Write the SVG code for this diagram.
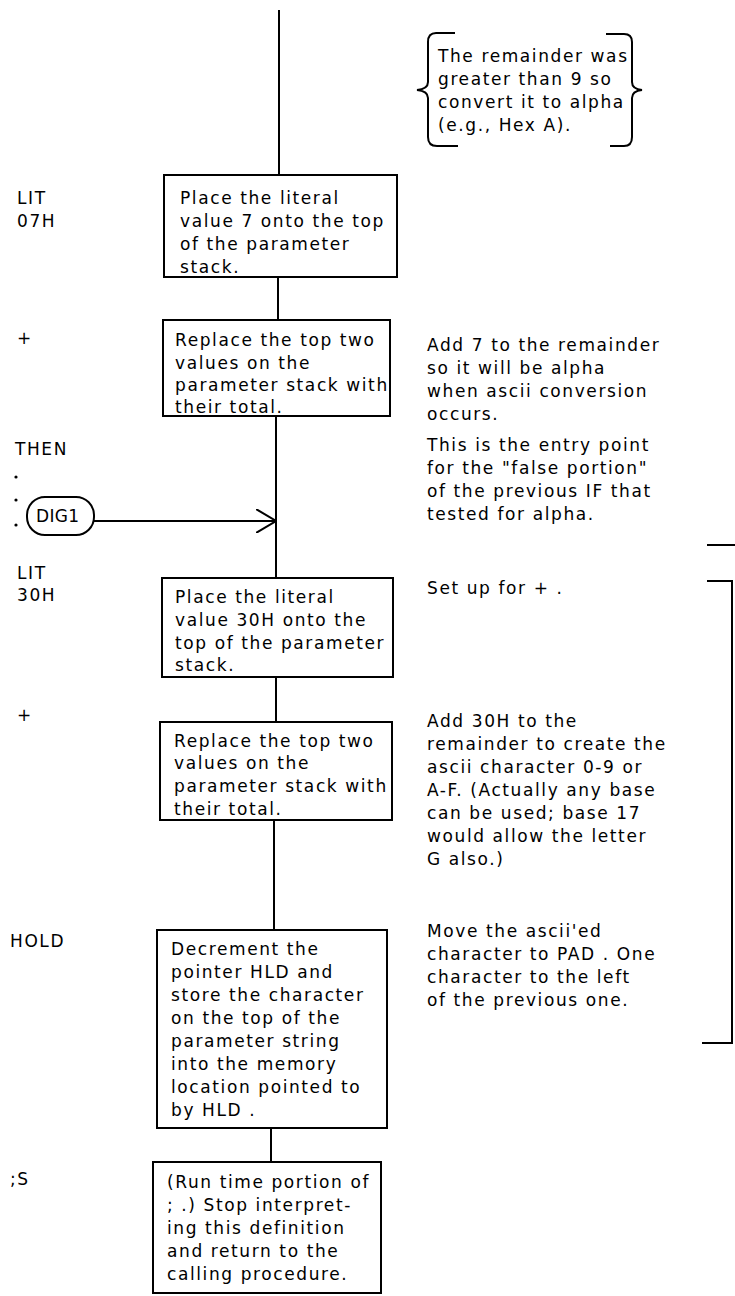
<svg xmlns="http://www.w3.org/2000/svg" width="735" height="1296" viewBox="0 0 735 1296">
<style>
  text { font-family: "DejaVu Sans", "Liberation Sans", sans-serif; font-size: 17px; fill: #000; letter-spacing: 1.6px; }
  .box { fill: #fff; stroke: #000; stroke-width: 2; }
  .ln { fill: none; stroke: #000; stroke-width: 2; }
</style>
<defs>
  <marker id="vee" viewBox="0 0 20 24" refX="20" refY="12" markerWidth="20" markerHeight="24" markerUnits="userSpaceOnUse" orient="auto">
    <path d="M0,0 L20,12 L0,24" fill="none" stroke="#000" stroke-width="2"/>
  </marker>
</defs>
<rect width="735" height="1296" fill="#fff"/>

<g id="connectors">
  <line class="ln" x1="279" y1="10" x2="279" y2="175"/>
  <line class="ln" x1="278" y1="277" x2="278" y2="320"/>
  <line class="ln" x1="276" y1="416" x2="276" y2="578"/>
  <line class="ln" x1="276" y1="677" x2="276" y2="722"/>
  <line class="ln" x1="274" y1="820" x2="274" y2="930"/>
  <line class="ln" x1="271" y1="1128" x2="271" y2="1162"/>
  <line class="ln" x1="94" y1="521" x2="276" y2="521" marker-end="url(#vee)"/>
</g>

<g id="brace-note">
  <path class="ln" d="M455,33 L436,33 Q428,33 428,42 L428,82 Q428,89 417,90 Q428,91 428,98 L428,137 Q428,146 437,146 L458,146"/>
  <path class="ln" d="M606,34 L624,34 Q632,34 632,42 L632,82 Q632,89 642,90 Q632,91 632,98 L632,137 Q632,146 624,146 L610,146"/>
  <text x="438" y="62">The remainder was</text>
  <text x="438" y="85">greater than 9 so</text>
  <text x="438" y="108">convert it to alpha</text>
  <text x="438" y="131">(e.g., Hex A).</text>
</g>

<g id="labels">
  <text x="17" y="204">LIT</text>
  <text x="17" y="227">07H</text>
  <text x="17" y="344">+</text>
  <text x="15" y="455">THEN</text>
  <circle cx="16" cy="477" r="1.6"/>
  <circle cx="16" cy="500" r="1.6"/>
  <circle cx="16" cy="525" r="1.6"/>
  <text x="17" y="579">LIT</text>
  <text x="17" y="601">30H</text>
  <text x="17" y="721">+</text>
  <text x="10" y="947">HOLD</text>
  <text x="10" y="1185">;S</text>
</g>

<g id="dig1">
  <rect class="box" x="27" y="497" width="67" height="38" rx="18" ry="18"/>
  <text x="36" y="522" style="letter-spacing:0.3px">DIG1</text>
</g>

<g id="node1">
  <rect class="box" x="164" y="175" width="233" height="102"/>
  <text x="180" y="204">Place the literal</text>
  <text x="180" y="227">value 7 onto the top</text>
  <text x="180" y="250">of the parameter</text>
  <text x="180" y="273">stack.</text>
</g>

<g id="node2">
  <rect class="box" x="163" y="320" width="227" height="96"/>
  <text x="175" y="346">Replace the top two</text>
  <text x="175" y="369">values on the</text>
  <text x="175" y="391">parameter stack with</text>
  <text x="175" y="413">their total.</text>
</g>

<g id="node3">
  <rect class="box" x="162" y="578" width="231" height="99"/>
  <text x="175" y="603">Place the literal</text>
  <text x="175" y="626">value 30H onto the</text>
  <text x="175" y="649">top of the parameter</text>
  <text x="175" y="671">stack.</text>
</g>

<g id="node4">
  <rect class="box" x="160" y="722" width="232" height="98"/>
  <text x="174" y="747">Replace the top two</text>
  <text x="174" y="769">values on the</text>
  <text x="174" y="792">parameter stack with</text>
  <text x="174" y="815">their total.</text>
</g>

<g id="node5">
  <rect class="box" x="157" y="930" width="230" height="198"/>
  <text x="171" y="955">Decrement the</text>
  <text x="171" y="978">pointer HLD and</text>
  <text x="171" y="1001">store the character</text>
  <text x="171" y="1024">on the top of the</text>
  <text x="171" y="1047">parameter string</text>
  <text x="171" y="1070">into the memory</text>
  <text x="171" y="1093">location pointed to</text>
  <text x="171" y="1116">by HLD .</text>
</g>

<g id="node6">
  <rect class="box" x="153" y="1162" width="228" height="131"/>
  <text x="167" y="1188">(Run time portion of</text>
  <text x="167" y="1211">; .) Stop interpret-</text>
  <text x="167" y="1234">ing this definition</text>
  <text x="167" y="1257">and return to the</text>
  <text x="167" y="1280">calling procedure.</text>
</g>

<g id="notes">
  <text x="427" y="351">Add 7 to the remainder</text>
  <text x="427" y="374">so it will be alpha</text>
  <text x="427" y="397">when ascii conversion</text>
  <text x="427" y="420">occurs.</text>
  <text x="427" y="451">This is the entry point</text>
  <text x="427" y="474">for the "false portion"</text>
  <text x="427" y="497">of the previous IF that</text>
  <text x="427" y="520">tested for alpha.</text>
  <text x="427" y="594">Set up for + .</text>
  <text x="427" y="727">Add 30H to the</text>
  <text x="427" y="750">remainder to create the</text>
  <text x="427" y="773">ascii character 0-9 or</text>
  <text x="427" y="796">A-F. (Actually any base</text>
  <text x="427" y="819">can be used; base 17</text>
  <text x="427" y="842">would allow the letter</text>
  <text x="427" y="865">G also.)</text>
  <text x="427" y="937">Move the ascii'ed</text>
  <text x="427" y="960">character to PAD . One</text>
  <text x="427" y="983">character to the left</text>
  <text x="427" y="1006">of the previous one.</text>
</g>

<g id="bracket">
  <line class="ln" x1="707" y1="545" x2="735" y2="545"/>
  <path class="ln" d="M707,581 L732,581 L732,1043 L702,1043"/>
</g>
</svg>
